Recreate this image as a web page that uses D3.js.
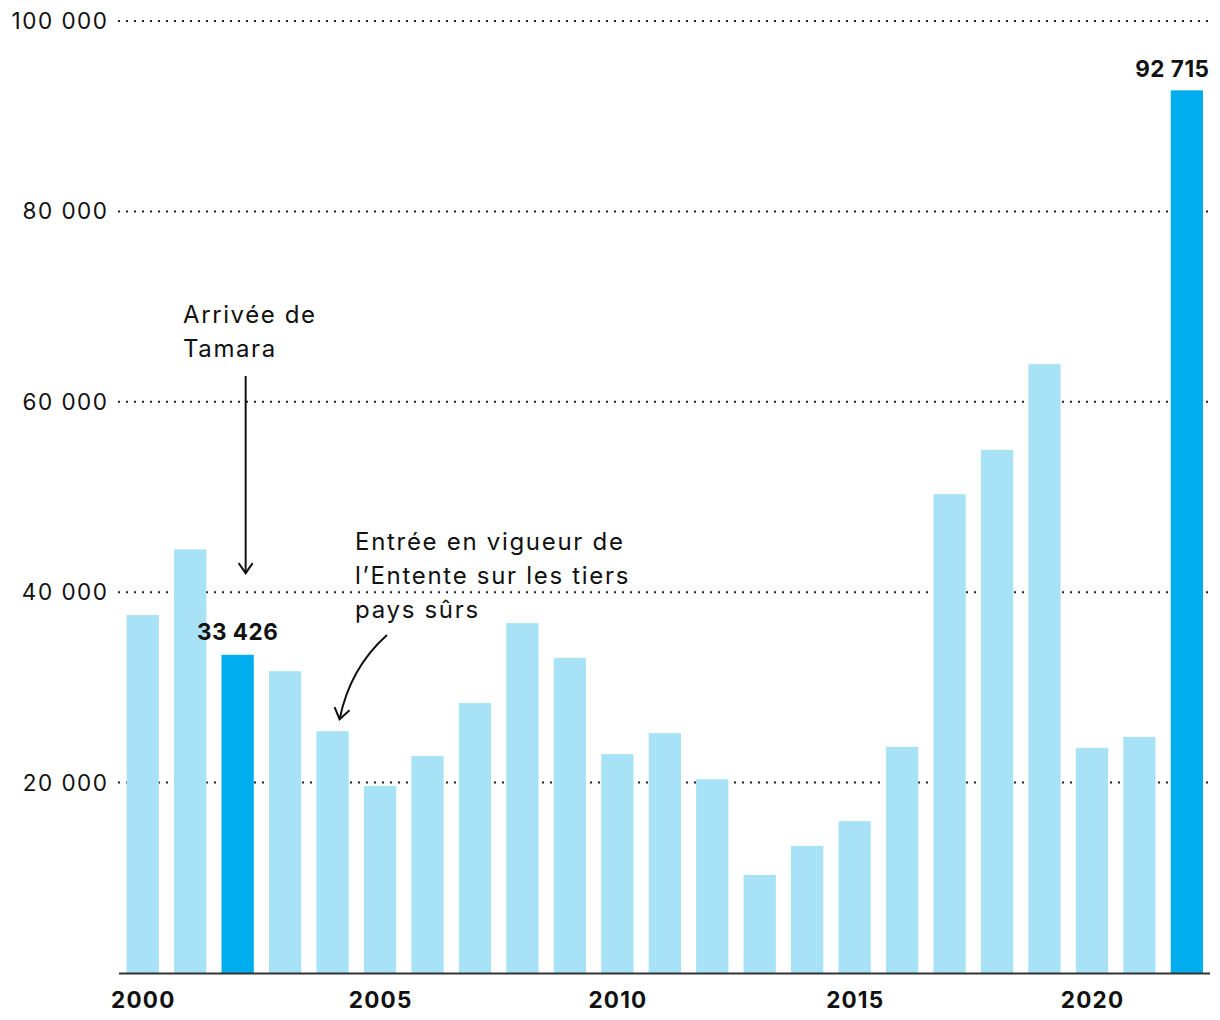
<!DOCTYPE html>
<html><head><meta charset="utf-8">
<script src="https://cdn.jsdelivr.net/npm/d3@7"></script>
<style>
html,body{margin:0;padding:0;background:#fff;}
svg{display:block;font-family:Inter,"Noto Sans",sans-serif;}
</style></head>
<body><svg id="c" width="1220" height="1020"></svg>
<script>
const years = [2000,2001,2002,2003,2004,2005,2006,2007,2008,2009,2010,2011,2012,2013,2014,2015,2016,2017,2018,2019,2020,2021,2022];
const values = [37600,44500,33426,31700,25400,19650,22800,28350,36750,33100,23000,25200,20350,10300,13350,15950,23750,50300,54950,63950,23650,24800,92715];
const highlighted = [2002,2022];
const yTicks = [20000,40000,60000,80000,100000];
const xTickYears = [2000,2005,2010,2015,2020];

const svg = d3.select("#c");
const x = d3.scaleBand().domain(years).range([119,1210.6]).paddingInner(0.32).paddingOuter(0.16);
const y = d3.scaleLinear().domain([0,100000]).range([973,21]);
const fmt = v => d3.format(",")(v).replace(/,/g," ");

// grid
svg.append("g").selectAll("line").data(yTicks).join("line")
  .attr("x1",118).attr("x2",1210)
  .attr("y1",d=>y(d)).attr("y2",d=>y(d))
  .attr("stroke","#222").attr("stroke-width",2).attr("stroke-dasharray","2,6");
svg.append("g").selectAll("text").data(yTicks).join("text")
  .attr("x",107+1.5).attr("y",d=>y(d)+8).attr("text-anchor","end")
  .attr("font-size",22.5).attr("letter-spacing",1.5).attr("fill","#111").text(fmt);

// bars
svg.append("g").selectAll("rect").data(years).join("rect")
  .attr("x",d=>x(d)).attr("width",x.bandwidth())
  .attr("y",(d,i)=>y(values[i])).attr("height",(d,i)=>y(0)-y(values[i]))
  .attr("fill",d=>highlighted.includes(d)?"#00aeef":"#a8e2f7");

// axis line
svg.append("line").attr("x1",119).attr("x2",1210).attr("y1",y(0)+0.5).attr("y2",y(0)+0.5)
  .attr("stroke","#333").attr("stroke-width",2);
svg.append("g").selectAll("text").data(xTickYears).join("text")
  .attr("x",d=>x(d)+x.bandwidth()/2+0.6).attr("y",1008).attr("text-anchor","middle")
  .attr("font-size",22.5).attr("font-weight",700).attr("letter-spacing",1.2).attr("fill","#111").text(d=>d);

// value labels
const i02 = years.indexOf(2002), i22 = years.indexOf(2022);
svg.append("text").attr("x",x(2002)+x.bandwidth()/2).attr("y",y(values[i02])-15)
  .attr("text-anchor","middle").attr("font-size",22.5).attr("font-weight",700).attr("letter-spacing",0.5).attr("fill","#111")
  .text(fmt(values[i02]));
svg.append("text").attr("x",1209.5).attr("y",y(values[i22])-13)
  .attr("text-anchor","end").attr("font-size",22.5).attr("font-weight",700).attr("letter-spacing",0.5).attr("fill","#111")
  .text(fmt(values[i22]));

// annotation 1
const a1 = svg.append("g").attr("font-size",24).attr("letter-spacing",1.6).attr("fill","#111");
a1.append("text").attr("x",183).attr("y",323).text("Arrivée de");
a1.append("text").attr("x",183).attr("y",357).text("Tamara");
const ax = x(2002)+x.bandwidth()/2+8;
svg.append("line").attr("x1",ax).attr("x2",ax).attr("y1",376).attr("y2",y(42000))
  .attr("stroke","#111").attr("stroke-width",2);
svg.append("path").attr("d",`M${ax-7},${y(42000)-10}L${ax},${y(42000)}L${ax+7},${y(42000)-10}`)
  .attr("fill","none").attr("stroke","#111").attr("stroke-width",2);

// annotation 2
const a2 = svg.append("g").attr("font-size",24).attr("letter-spacing",1.7).attr("fill","#111");
["Entrée en vigueur de","l’Entente sur les tiers","pays sûrs"].forEach((t,i)=>
  a2.append("text").attr("x",355).attr("y",550+i*34).text(t));
const tx = x(2004)+x.bandwidth()/2+7, ty = y(values[years.indexOf(2004)])-12;
svg.append("path").attr("d",`M387,635 Q350,668 ${tx},${ty}`)
  .attr("fill","none").attr("stroke","#111").attr("stroke-width",2);
svg.append("path").attr("d",`M${tx-5},${ty-12}L${tx},${ty}L${tx+10},${ty-9}`)
  .attr("fill","none").attr("stroke","#111").attr("stroke-width",2);
</script></body></html>
